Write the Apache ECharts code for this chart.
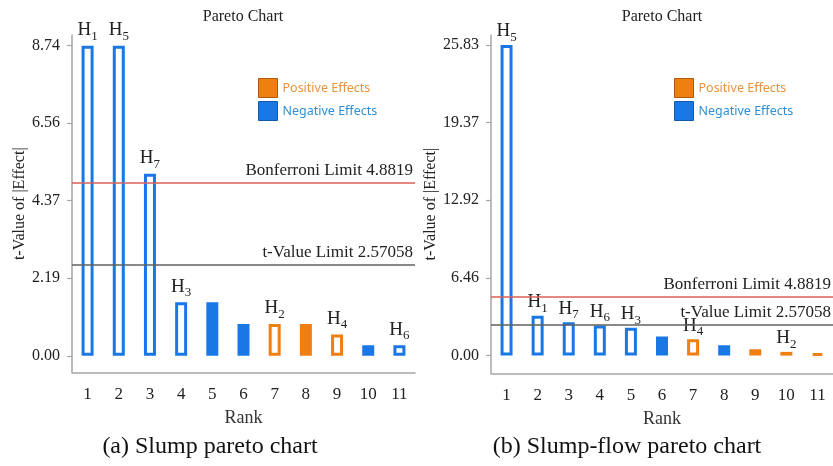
<!DOCTYPE html>
<html><head><meta charset="utf-8">
<script src="https://cdn.jsdelivr.net/npm/echarts@6.0.0/dist/echarts.min.js"></script>
<style>html,body{margin:0;padding:0;background:#fff}#c{width:833px;height:466px}</style>
</head><body><div id="c"></div>
<script>
const ranks = ['1','2','3','4','5','6','7','8','9','10','11'];

const slumpValues  = [8.74, 8.74, 5.13, 1.51, 1.51, 0.90, 0.90, 0.90, 0.60, 0.30, 0.30];
const slumpSigns   = ['neg','neg','neg','neg','neg','neg','pos','pos','pos','neg','neg'];
const slumpFactors = ['1','5','7','3','','','2','','4','','6'];
const slumpTicks   = [0, 2.19, 4.37, 6.56, 8.74];

const flowValues  = [25.83, 3.31, 2.78, 2.50, 2.31, 1.58, 1.37, 0.87, 0.53, 0.31, 0.20];
const flowSigns   = ['neg','neg','neg','neg','neg','neg','pos','neg','pos','pos','pos'];
const flowFactors = ['5','1','7','6','3','','4','','','2',''];
const flowTicks   = [0, 6.46, 12.92, 19.37, 25.83];

const limitValues = [4.8819, 2.57058];
const limitNames  = ['Bonferroni Limit 4.8819', 't-Value Limit 2.57058'];
const effectNames = ['Positive Effects', 'Negative Effects'];
const chartTitles = ['Pareto Chart', 'Pareto Chart'];
const captions    = ['(a) Slump pareto chart', '(b) Slump-flow pareto chart'];
const axisNames   = ['t-Value of |Effect|', 'Rank'];

const BLUE = '#1a78e6', ORANGE = '#f07f12';
const SERIF = '"Liberation Serif", "Times New Roman", serif';
const AXIS_C = '#a6a6a6';

function buildData(values, signs, factors, sign) {
  const col = sign === 'pos' ? ORANGE : BLUE;
  return values.map((v, i) => {
    if (signs[i] !== sign) return '-';
    const hollow = factors[i] !== '';
    return {
      value: v,
      itemStyle: { color: hollow ? '#ffffff' : col, borderColor: col, borderWidth: 3 },
      label: hollow ? { show: true, formatter: '{h|H}{s|' + factors[i] + '}' } : { show: false }
    };
  });
}

const labelBase = (dist) => ({
  show: false, position: 'top', distance: dist,
  rich: {
    h: { fontFamily: SERIF, fontSize: 19, lineHeight: 19, padding: [0, 0, 3, 0], verticalAlign: 'bottom', color: '#222' },
    s: { fontFamily: SERIF, fontSize: 13, lineHeight: 13, verticalAlign: 'bottom', color: '#222' }
  }
});

function markLines() {
  const cols = ['#d9605a', '#606060'];
  return {
    silent: true, symbol: ['none', 'none'], animation: false,
    data: limitValues.map((v, i) => ({
      yAxis: v,
      lineStyle: { color: cols[i], width: 1.5, type: 'solid' },
      label: { formatter: limitNames[i] }
    })),
    label: { position: 'insideEndTop', distance: [2, 4], fontFamily: SERIF, fontSize: 17, color: '#222' }
  };
}

function xAx(gi) {
  return {
    type: 'category', gridIndex: gi, data: ranks,
    name: axisNames[1], nameLocation: 'middle', nameGap: 37,
    nameTextStyle: { fontFamily: SERIF, fontSize: 18, color: '#333' },
    axisLine: { onZero: false, lineStyle: { color: AXIS_C, width: 1.5 } },
    axisTick: { alignWithLabel: true, length: 9, lineStyle: { color: AXIS_C, width: 1.5 } },
    axisLabel: { margin: 14, fontFamily: SERIF, fontSize: 17, color: '#222' },
    splitLine: { show: false }
  };
}
function yAx(gi, min, max, ticks, gap) {
  return {
    type: 'value', gridIndex: gi, min: min, max: max,
    name: axisNames[0], nameLocation: 'middle', nameGap: gap,
    nameTextStyle: { fontFamily: SERIF, fontSize: 16, color: '#222' },
    axisLine: { show: true, lineStyle: { color: AXIS_C, width: 1.5 } },
    axisTick: { show: true, length: 5, customValues: ticks, lineStyle: { color: AXIS_C, width: 1.2 } },
    axisLabel: { margin: 12, customValues: ticks, formatter: v => Number(v).toFixed(2),
                 fontFamily: SERIF, fontSize: 16, color: '#222' },
    splitLine: { show: false }
  };
}
function legend(left) {
  return {
    orient: 'vertical', left: left, top: 73, itemWidth: 19, itemHeight: 19, itemGap: 3,
    selectedMode: false,
    textStyle: { fontFamily: '"Noto Sans", sans-serif', fontSize: 12.5 },
    data: [
      { name: effectNames[0], icon: 'rect', itemStyle: { color: ORANGE, borderColor: '#b05a10', borderWidth: 1 }, textStyle: { color: '#e8923a' } },
      { name: effectNames[1], icon: 'rect', itemStyle: { color: BLUE, borderColor: '#1458a8', borderWidth: 1 }, textStyle: { color: '#2d8fd8' } }
    ]
  };
}

const chart = echarts.init(document.getElementById('c'), null, { renderer: 'canvas' });
chart.setOption({
  animation: false,
  backgroundColor: '#ffffff',
  grid: [
    { left: 72, top: 35, width: 343, height: 337.5 },
    { left: 491, top: 35, width: 344, height: 338.3 }
  ],
  xAxis: [xAx(0), xAx(1)],
  yAxis: [yAx(0, -0.47, 9.04, slumpTicks, 42), yAx(1, -1.47, 26.66, flowTicks, 42)],
  legend: [legend(253), legend(669)],
  series: [
    { name: effectNames[0], type: 'bar', xAxisIndex: 0, yAxisIndex: 0, barWidth: 12, barGap: '-100%',
      itemStyle: { color: ORANGE }, label: labelBase(3),
      data: buildData(slumpValues, slumpSigns, slumpFactors, 'pos') },
    { name: effectNames[1], type: 'bar', xAxisIndex: 0, yAxisIndex: 0, barWidth: 12, barGap: '-100%',
      itemStyle: { color: BLUE }, label: labelBase(3),
      data: buildData(slumpValues, slumpSigns, slumpFactors, 'neg'), markLine: markLines() },
    { name: effectNames[0], type: 'bar', xAxisIndex: 1, yAxisIndex: 1, barWidth: 12, barGap: '-100%',
      itemStyle: { color: ORANGE }, label: labelBase(1),
      data: buildData(flowValues, flowSigns, flowFactors, 'pos') },
    { name: effectNames[1], type: 'bar', xAxisIndex: 1, yAxisIndex: 1, barWidth: 12, barGap: '-100%',
      itemStyle: { color: BLUE }, label: labelBase(1),
      data: buildData(flowValues, flowSigns, flowFactors, 'neg'), markLine: markLines() }
  ],
  graphic: [
    { type: 'text', x: 243, y: 17, style: { text: chartTitles[0], align: 'center', verticalAlign: 'middle', font: '16px ' + SERIF, fill: '#222' } },
    { type: 'text', x: 662, y: 17, style: { text: chartTitles[1], align: 'center', verticalAlign: 'middle', font: '16px ' + SERIF, fill: '#222' } },
    { type: 'text', x: 210, y: 447, style: { text: captions[0], align: 'center', verticalAlign: 'middle', font: '24px ' + SERIF, fill: '#111' } },
    { type: 'text', x: 627, y: 447, style: { text: captions[1], align: 'center', verticalAlign: 'middle', font: '24px ' + SERIF, fill: '#111' } }
  ]
});
</script>
</body></html>
